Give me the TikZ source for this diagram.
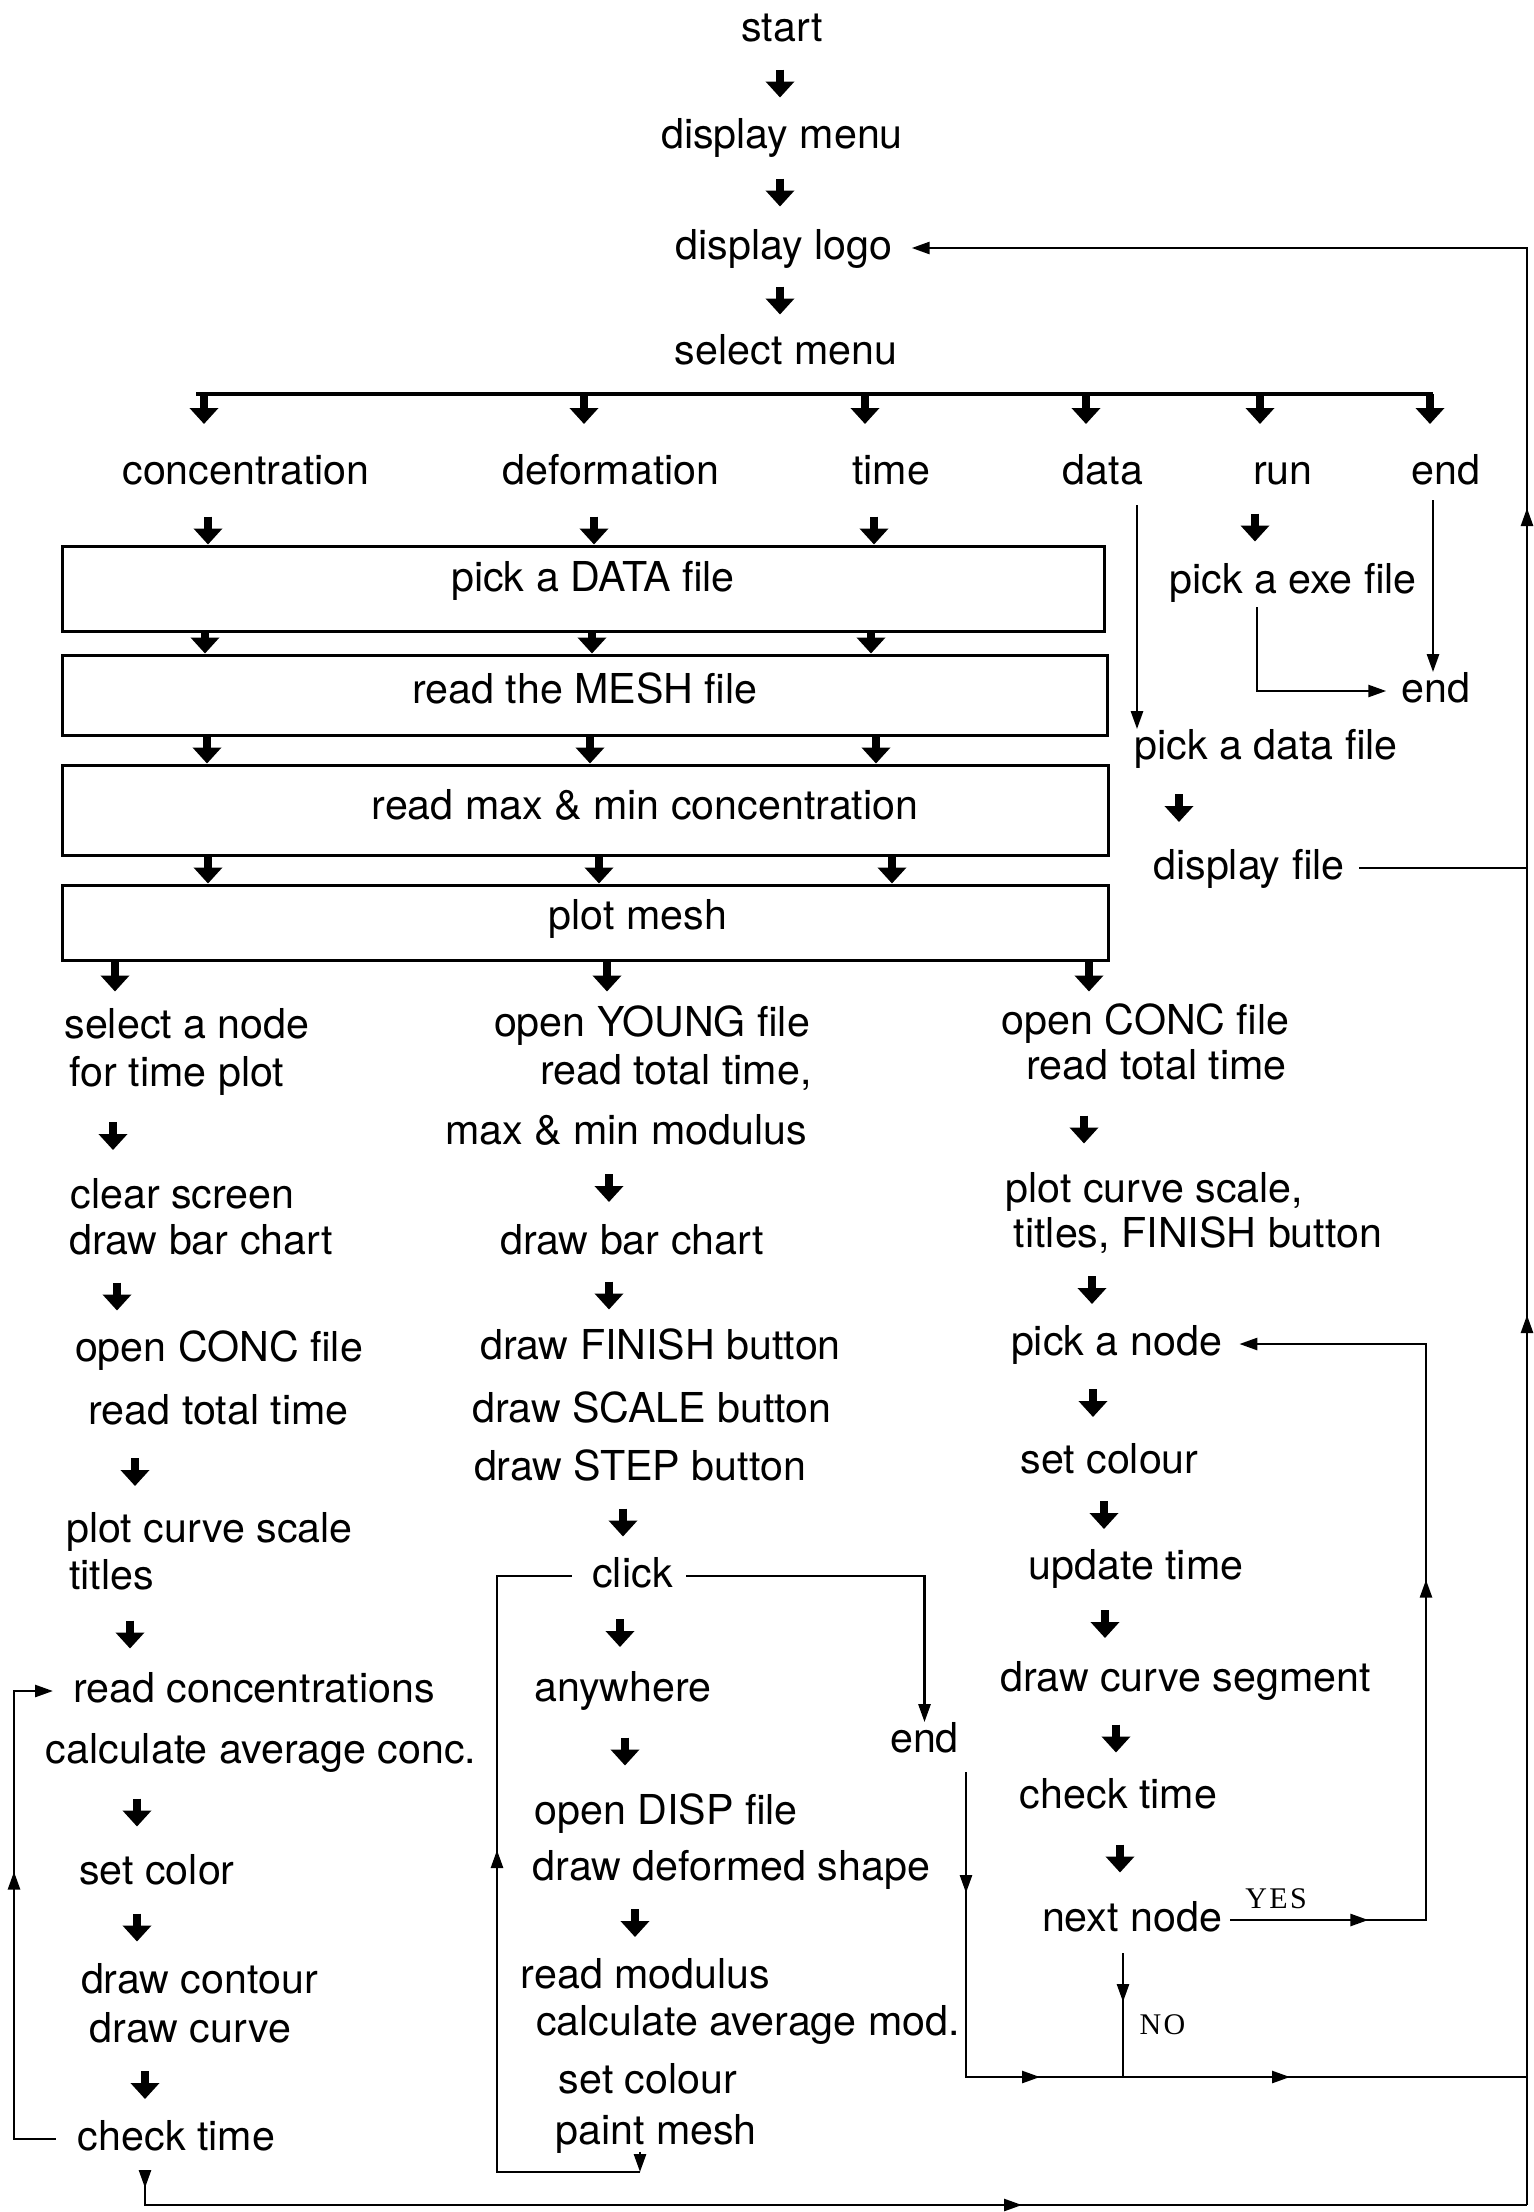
\documentclass[tikz,border=0pt]{standalone}
\usepackage{fontspec}
\setmainfont{TeX Gyre Heros}
\newfontfamily\serf[LetterSpace=8]{Liberation Serif}
\usetikzlibrary{arrows.meta,calc,decorations.markings}
\newcommand\mylbl{\fontsize{20.6}{24}\selectfont}
% thick block arrows
\newcommand\flarr[3]{\draw[tarr] let \p0=(#1,0), \p1=($(#2.south)!.5!(#3.north)$) in (\x0,\y1+7pt) -- (\x0,\y1-7pt);}
\newcommand\bxarr[3]{\draw[tarr] let \p0=(#1,0), \p1=(#2.south), \p2=(#3.north) in (\x0,\y1) -- (\x0,\y2);}
\newcommand\inbarr[2]{\draw[tarr] let \p0=(#1,0), \p1=(#2.north) in (\x0,\y1+14pt) -- (\x0,\y1);}
\newcommand\outbarr[2]{\draw[tarr] let \p0=(#1,0), \p1=(#2.south) in (\x0,\y1) -- (\x0,\y1-15pt);}
\begin{document}
\begin{tikzpicture}[x=0.5pt,y=-0.5pt,
  txt/.style={font=\mylbl, inner sep=0pt, text height=14.8pt, text depth=3.7pt},
  yn/.style={font=\serf\fontsize{15}{18}\selectfont, inner sep=0pt},
  bx/.style={draw, line width=1.5pt, inner sep=0pt},
  tarr/.style={line width=4pt, -{Triangle[width=14pt,length=8pt]}},
  thinl/.style={line width=1.3pt},
  barline/.style={line width=2.2pt},
  thtip/.style={-{Triangle[width=6pt,length=9pt]}},
  marr/.style={postaction={decorate,decoration={markings,mark=at position #1 with {\arrow{Triangle[width=6pt,length=9pt]}}}}}
]
\useasboundingbox (0,0) rectangle (1534,2212);

% ---------- top ----------
\node[txt] (start) at (782,30) {start};
\node[txt] (dmenu) at (782,137) {display menu};
\node[txt] (dlogo) at (784,248) {display logo};
\node[txt] (smenu) at (786,353) {select menu};
\flarr{780}{start}{dmenu}
\flarr{780}{dmenu}{dlogo}
\flarr{780}{dlogo}{smenu}

\coordinate (barL) at (196,394);
\coordinate (barR) at (1433,394);
\draw[barline] (barL) -- (barR);
\outbarr{204}{barL}
\outbarr{584}{barL}
\outbarr{865}{barL}
\outbarr{1086}{barL}
\outbarr{1260}{barL}
\outbarr{1430}{barL}

\node[txt] (conc) at (246,473) {concentration};
\node[txt] (defo) at (611,473) {deformation};
\node[txt] (time) at (891,473) {time};
\node[txt] (data) at (1103,473) {data};
\node[txt] (run) at (1283,473) {run};
\node[txt] (end1) at (1446,473) {end};

% ---------- boxes ----------
\node[bx, minimum width=521pt, minimum height=42.5pt] (b1) at (583,588.5) {};
\node[bx, minimum width=522.5pt, minimum height=40pt] (b2) at (584.5,695) {};
\node[bx, minimum width=523pt, minimum height=45pt] (b3) at (585,810) {};
\node[bx, minimum width=523pt, minimum height=37.5pt] (b4) at (585,922.5) {};
\node[txt] (t1) at (593,580) {pick a DATA file};
\node[txt] (t2) at (585,692) {read the MESH file};
\node[txt] (t3) at (645,808) {read max \& min concentration};
\node[txt] (t4) at (638,918) {plot mesh};

\inbarr{208}{b1}
\inbarr{594}{b1}
\inbarr{874}{b1}
\bxarr{205}{b1}{b2}
\bxarr{592}{b1}{b2}
\bxarr{871}{b1}{b2}
\bxarr{207}{b2}{b3}
\bxarr{590}{b2}{b3}
\bxarr{876}{b2}{b3}
\bxarr{208}{b3}{b4}
\bxarr{599}{b3}{b4}
\bxarr{892}{b3}{b4}
\outbarr{115}{b4}
\outbarr{607}{b4}
\outbarr{1089}{b4}

% ---------- upper right ----------
\node[txt] (pexe) at (1293,582) {pick a exe file};
\node[txt] (end2) at (1436,691) {end};
\node[txt] (pdf) at (1266,748) {pick a data file};
\node[txt] (dfile) at (1249,868) {display file};
\flarr{1255}{run}{pexe}
\flarr{1179}{pdf}{dfile}
\coordinate (dl) at (1137,505);
\draw[thinl,thtip] (dl) -- (dl |- pdf.north);
\coordinate (el) at (1433,500);
\draw[thinl,thtip] (el) -- (el |- end2.north);
\coordinate (rl) at (1257,607);
\draw[thinl,thtip] (rl) |- ([xshift=-7.5pt]end2.west);

% ---------- left column ----------
\node[txt] (sel1) at (187,1027) {select a node};
\node[txt] (sel2) at (177,1075) {for time plot};
\node[txt] (clr1) at (182.5,1197) {clear screen};
\node[txt] (clr2) at (201,1243) {draw bar chart};
\node[txt] (oc1) at (219,1350) {open CONC file};
\node[txt] (oc2) at (218.5,1413) {read total time};
\node[txt] (pc1) at (209.5,1531) {plot curve scale};
\node[txt] (pc2) at (111.5,1578) {titles};
\node[txt] (rc1) at (254,1691) {read concentrations};
\node[txt] (rc2) at (261,1752) {calculate average conc.};
\node[txt] (scl) at (157,1873) {set color};
\node[txt] (dc1) at (199.5,1982) {draw contour};
\node[txt] (dc2) at (190.5,2031) {draw curve};
\node[txt] (ct) at (176.5,2139) {check time};
\flarr{113}{sel2}{clr1}
\flarr{117}{clr2}{oc1}
\flarr{135}{oc2}{pc1}
\flarr{130}{pc2}{rc1}
\flarr{137}{rc2}{scl}
\flarr{137}{scl}{dc1}
\flarr{145}{dc2}{ct}
\coordinate (lx) at (14,0);
\draw[thinl,thtip,marr=154.5pt] ([xshift=-11pt]ct.west) -- (lx |- ct.west) -- (lx |- rc1.west) -- ([xshift=-10pt]rc1.west);

% ---------- middle column ----------
\node[txt] (oy1) at (652,1025) {open YOUNG file};
\node[txt] (oy2) at (676,1073) {read total time,};
\node[txt] (oy3) at (626,1133) {max \& min modulus};
\node[txt] (dbc) at (632,1243) {draw bar chart};
\node[txt] (dfin) at (660.5,1348) {draw FINISH button};
\node[txt] (dsc) at (652,1411) {draw SCALE button};
\node[txt] (dst) at (640,1469) {draw STEP button};
\node[txt] (click) at (632.5,1576) {click};
\node[txt] (anyw) at (623,1690) {anywhere};
\node[txt] (od) at (666,1813) {open DISP file};
\node[txt] (dd) at (731.5,1869) {draw deformed shape};
\node[txt] (rm) at (645.5,1977) {read modulus};
\node[txt] (cam) at (748,2024) {calculate average mod.};
\node[txt] (sco) at (648,2082) {set colour};
\node[txt] (pm) at (656,2133) {paint mesh};
\node[txt] (end3) at (924.5,1741) {end};
\flarr{609}{oy3}{dbc}
\flarr{609}{dbc}{dfin}
\flarr{623}{dst}{click}
\flarr{620}{click}{anyw}
\flarr{625}{anyw}{od}
\flarr{635}{dd}{rm}
\coordinate (cb) at (640,2172);
\coordinate (cl) at (497,2172);
\draw[thinl,thtip] (pm.south -| cb) -- (cb);
\draw[thinl,marr=232.5pt] (cb) -- (cl) -- (cl |- click.west) -- ([xshift=-10pt]click.west);
\draw[thinl,thtip] ([xshift=6.5pt]click.east) -| (end3.north);

% ---------- right column ----------
\node[txt] (roc) at (1145.5,1023) {open CONC file};
\node[txt] (rtt) at (1156.5,1068) {read total time};
\node[txt] (pcs) at (1154.5,1191) {plot curve scale,};
\node[txt] (tfb) at (1198,1236) {titles, FINISH button};
\node[txt] (pn) at (1116.5,1344) {pick a node};
\node[txt] (sc) at (1109.5,1462) {set colour};
\node[txt] (ut) at (1136,1568) {update time};
\node[txt] (dcs) at (1185.5,1680) {draw curve segment};
\node[txt] (ctr) at (1118.5,1797) {check time};
\node[txt] (nn) at (1132,1920) {next node};
\node[yn] (yes) at (1276,1899) {YES};
\node[yn] (no) at (1162.5,2025) {NO};
\flarr{1084}{rtt}{pcs}
\flarr{1092}{tfb}{pn}
\flarr{1093}{pn}{sc}
\flarr{1104}{sc}{ut}
\flarr{1105}{ut}{dcs}
\flarr{1116}{dcs}{ctr}
\flarr{1120}{ctr}{nn}
\coordinate (yx) at (1426,0);
\draw[thinl,thtip,marr=69pt,marr=268pt] ([xshift=4pt]nn.east) -- (yx |- nn.east) -- (yx |- pn.east) -- ([xshift=8.5pt]pn.east);

% ---------- return lines ----------
\coordinate (rx) at (1527,0);
\coordinate (rb) at (1527,2205);
\coordinate (ex) at (966,1772);
\coordinate (ey) at (966,2077);
\coordinate (nx) at (1123,1953);
\coordinate (bt) at (145,2178);
\coordinate (bl) at (145,2205);
\draw[thinl,marr=60.5pt,marr=189.5pt,marr=314.5pt] (ex) -- (ey) -- (rx |- ey);
\draw[thinl,marr=24.5pt] (nx) -- (nx |- ey);
\draw[thinl,marr=5pt,marr=452pt] (bt) -- (bl) -- (rb);
\draw[thinl] ([xshift=7pt]dfile.east) -- (rx |- dfile.east);
\draw[thinl,thtip,marr=445pt,marr=848.5pt] (rb) -- (rx |- dlogo.east) -- ([xshift=9.5pt]dlogo.east);
\end{tikzpicture}
\end{document}
